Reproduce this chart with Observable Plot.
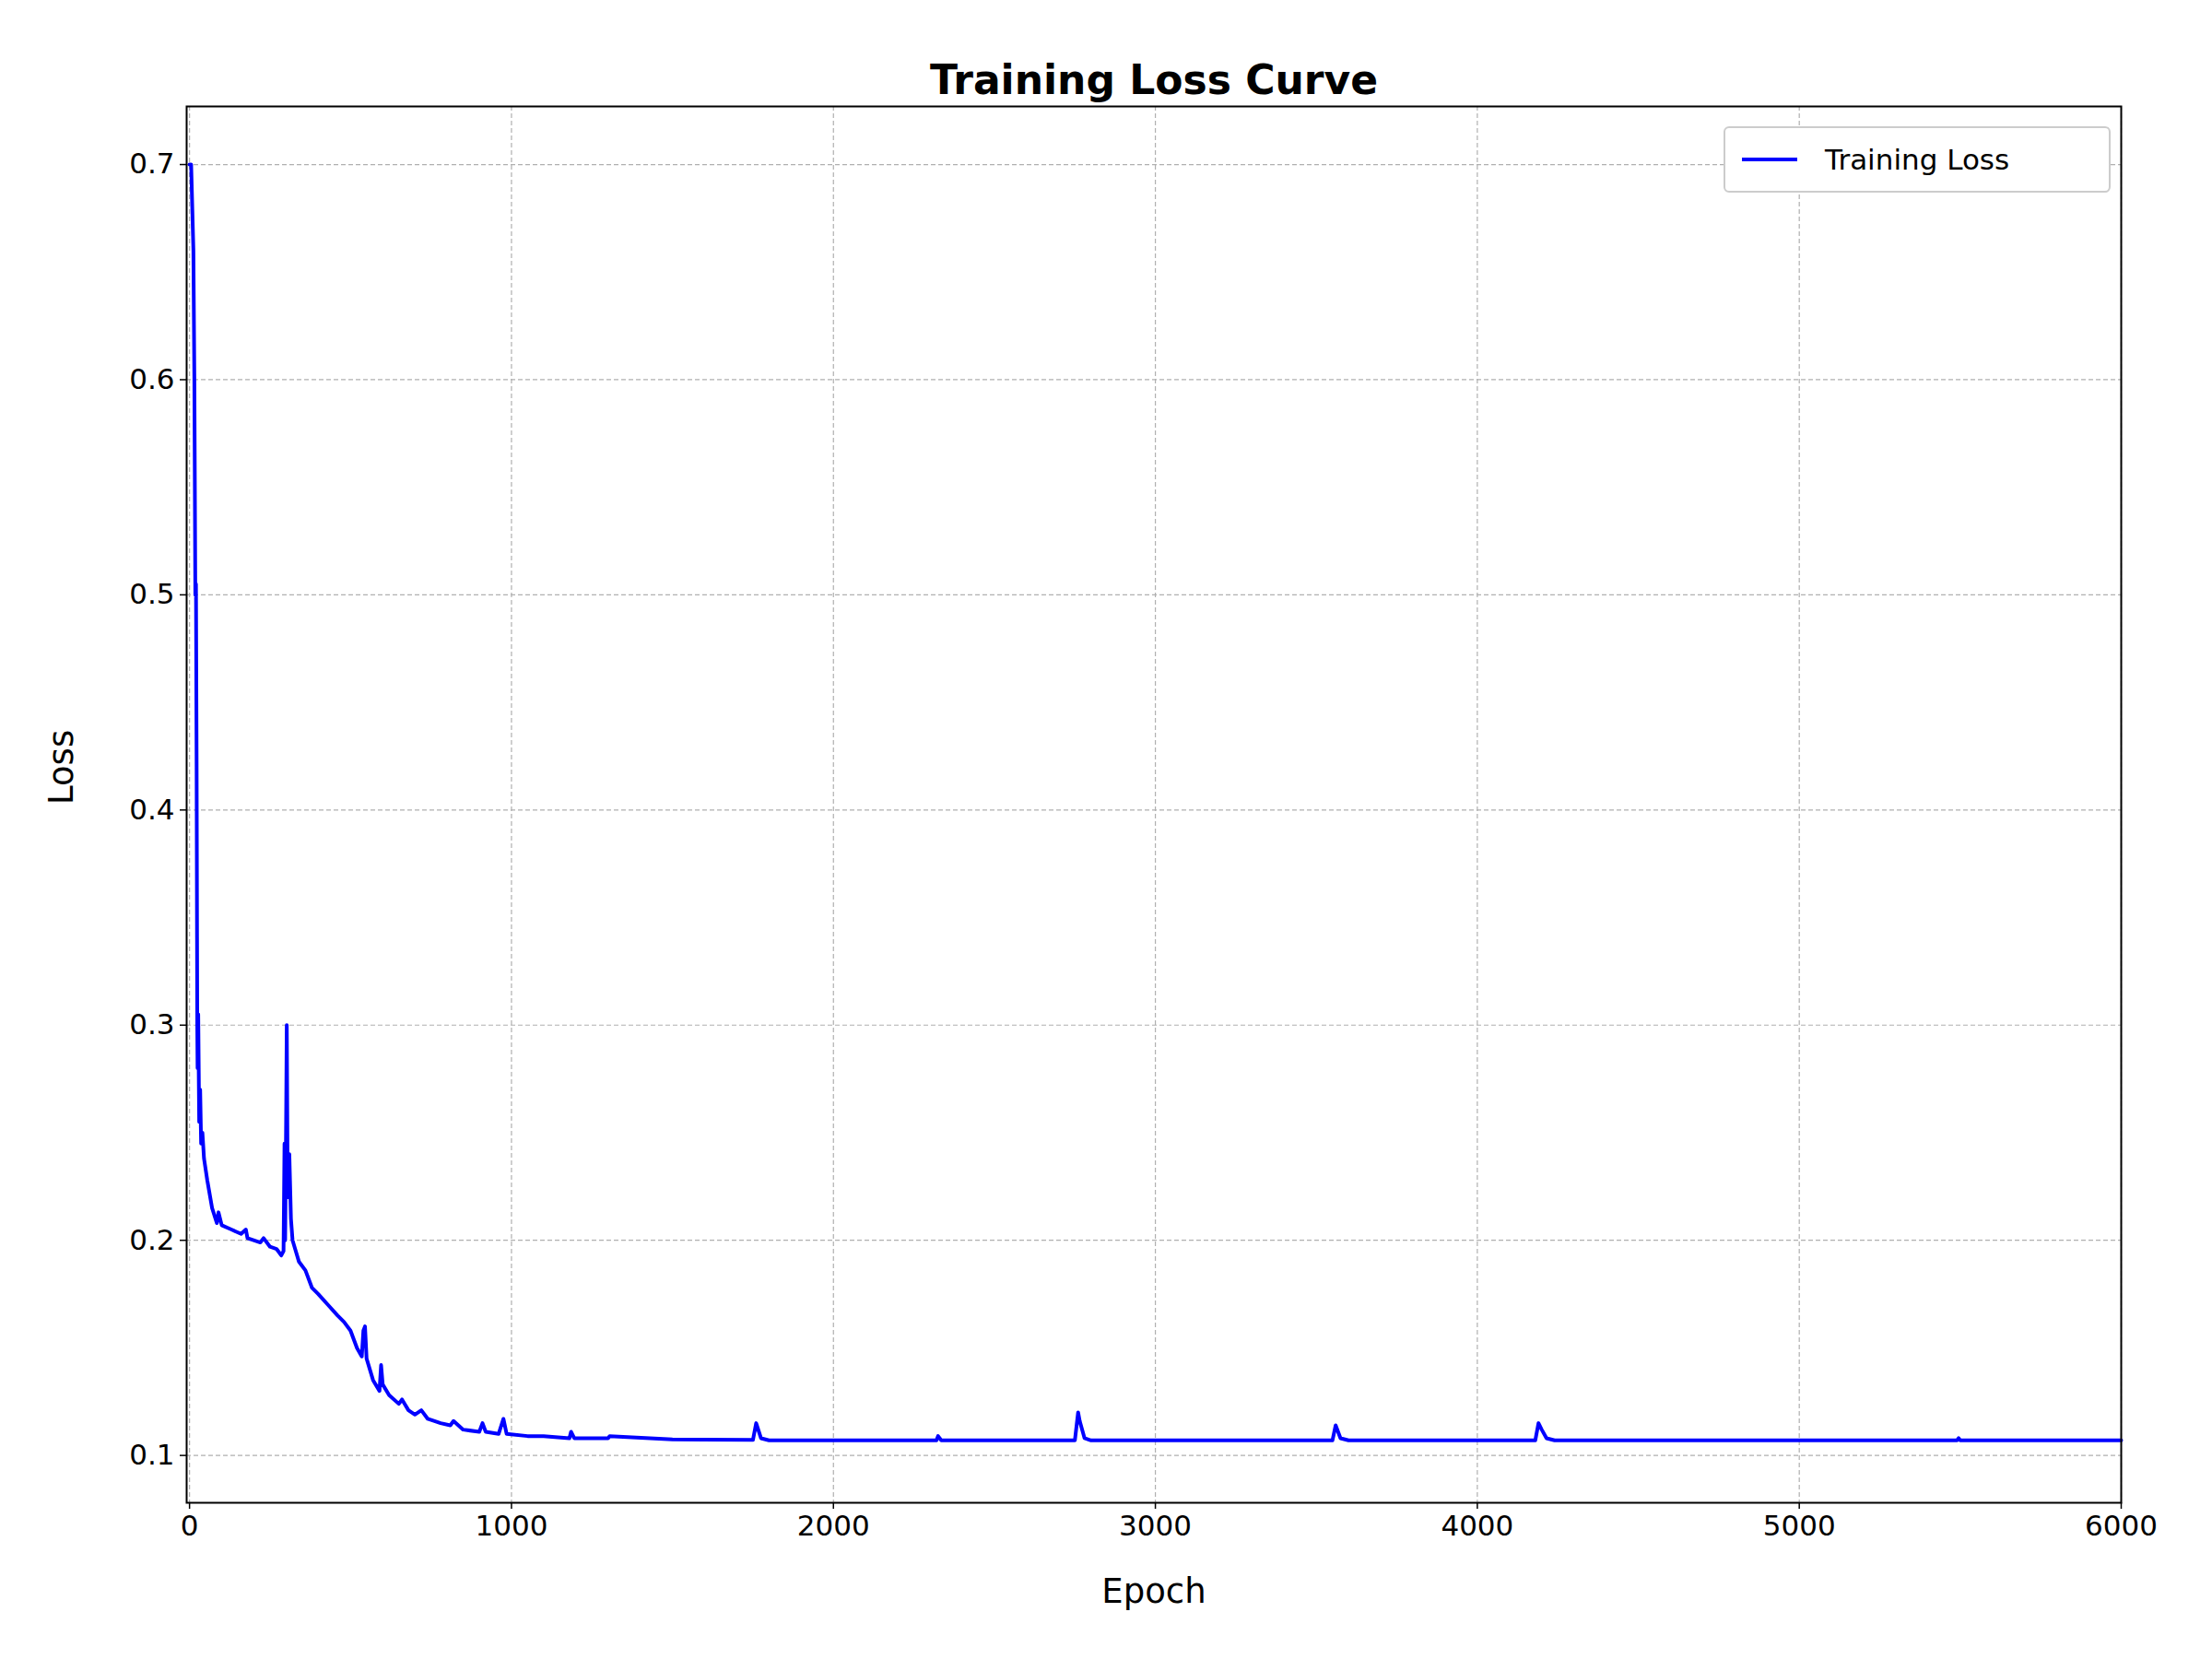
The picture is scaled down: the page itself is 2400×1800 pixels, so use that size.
<!DOCTYPE html>
<html><head><meta charset="utf-8">
<script src="https://cdn.jsdelivr.net/npm/d3@7"></script>
<script src="https://cdn.jsdelivr.net/npm/@observablehq/plot@0.6"></script>
<style>body{margin:0;background:#fff;font-family:"DejaVu Sans",sans-serif}#wrap{position:relative;width:2400px;height:1800px}
#legend{position:absolute;left:1870px;top:137px;width:420px;box-sizing:border-box;border:2px solid #ccc;border-radius:6px;background:#fff;padding:16px 18px;display:flex;align-items:center;font-size:31px;font-family:"DejaVu Sans"}
#legend span.l{display:inline-block;width:60px;height:4px;background:#0000ff;margin-right:30px}
#wrap svg g[aria-label$="tick label"] text{font-size:31px}</style>
</head><body><div id="wrap"><div id="legend"><span class="l"></span>Training Loss</div></div>
<script>
const epochs = [0,5,12,15,18,20,22,24,25,27,30,33,36,40,45,55,70,85,90,100,130,160,175,180,220,230,250,270,285,292,295,297,300,302,305,310,315,320,340,360,380,400,430,460,480,500,520,535,540,545,550,570,590,595,600,620,650,660,680,700,720,740,780,810,820,850,900,910,920,960,975,985,1050,1100,1180,1185,1195,1300,1305,1500,1750,1760,1775,1800,2320,2325,2335,2750,2760,2765,2780,2800,3550,3560,3575,3600,4180,4190,4200,4215,4240,5490,5495,5500,6000];
const losses = [0.70,0.70,0.66,0.60,0.50,0.505,0.42,0.30,0.28,0.305,0.255,0.27,0.245,0.25,0.238,0.228,0.215,0.208,0.213,0.207,0.205,0.203,0.205,0.201,0.199,0.201,0.197,0.196,0.193,0.195,0.245,0.20,0.255,0.30,0.22,0.24,0.21,0.20,0.19,0.186,0.178,0.175,0.17,0.165,0.162,0.158,0.15,0.146,0.158,0.16,0.145,0.135,0.13,0.142,0.133,0.128,0.124,0.126,0.121,0.119,0.121,0.117,0.115,0.114,0.116,0.112,0.111,0.115,0.111,0.110,0.117,0.110,0.109,0.109,0.108,0.111,0.108,0.108,0.109,0.1075,0.1072,0.115,0.108,0.107,0.107,0.109,0.107,0.107,0.12,0.116,0.108,0.107,0.107,0.114,0.108,0.107,0.107,0.115,0.112,0.108,0.107,0.107,0.108,0.107,0.107];
const xTicks=[0,1000,2000,3000,4000,5000,6000];
const yTicks=[0.1,0.2,0.3,0.4,0.5,0.6,0.7];
const data=epochs.map((e,i)=>({e,l:losses[i]}));
const chart=Plot.plot({
  width:2400,height:1800,marginLeft:202,marginRight:99,marginTop:115,marginBottom:170,
  style:{fontFamily:"DejaVu Sans",fontSize:"31px",color:"#000",background:"#fff"},
  x:{domain:[-9,6000],label:null},
  y:{domain:[0.078,0.727],label:null},
  marks:[
    Plot.gridX(xTicks,{stroke:"#b0b0b0",strokeOpacity:1,strokeDasharray:"5,3",strokeWidth:1.2}),
    Plot.gridY(yTicks,{stroke:"#b0b0b0",strokeOpacity:1,strokeDasharray:"5,3",strokeWidth:1.2}),
    Plot.axisX({ticks:xTicks,tickSize:7,tickPadding:6,label:null,tickFormat:d3.format("d"),strokeWidth:1.5}),
    Plot.axisY({ticks:yTicks,tickSize:7,tickPadding:6,label:null,tickFormat:d=>d.toFixed(1),strokeWidth:1.5}),
    Plot.line(data,{x:"e",y:"l",stroke:"#0000ff",strokeWidth:4}),
    Plot.frame({stroke:"#000",strokeWidth:2}),
    Plot.text(["Training Loss Curve"],{frameAnchor:"top",dy:-45,fontSize:44,fontWeight:"bold"}),
    Plot.text(["Epoch"],{frameAnchor:"bottom",dy:108,fontSize:37}),
    Plot.text(["Loss"],{frameAnchor:"left",dx:-135,rotate:-90,fontSize:37})
  ]
});
document.getElementById("wrap").prepend(chart);
</script></body></html>
